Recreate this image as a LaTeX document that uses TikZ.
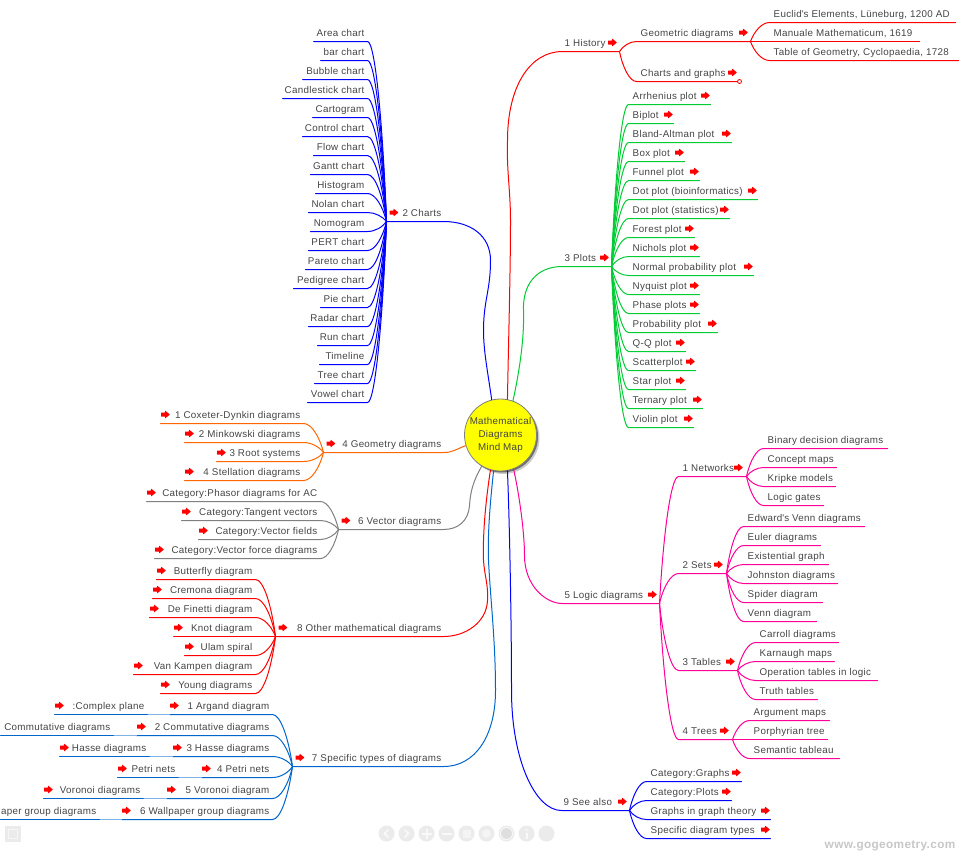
\documentclass[tikz,border=0pt]{standalone}
\usepackage{fontspec}
\setmainfont[LetterSpace=3]{Liberation Sans}
\usetikzlibrary{shadows,calc}
\definecolor{cred}{HTML}{FF0000}
\definecolor{cgreen}{HTML}{00CC33}
\definecolor{cblue}{HTML}{0000FF}
\definecolor{corange}{HTML}{FF6600}
\definecolor{cgray}{HTML}{808080}
\definecolor{csky}{HTML}{0066CC}
\definecolor{cpink}{HTML}{FF0099}
\definecolor{cyell}{HTML}{FFFF00}
\definecolor{textgray}{HTML}{444444}
\definecolor{btngray}{HTML}{EBEBEB}
\tikzset{lbl/.style={inner sep=0pt,text=textgray,font=\fontsize{9.8}{13}\selectfont},
  lnk/.style={line width=1pt,line cap=round},
  btn/.style={circle,fill=btngray,minimum size=16pt,inner sep=0pt},
  redarrow/.pic={\fill[cred,rounded corners=.4pt] (-4.5,-2)--(-.5,-2)--(-.5,-4)--(4.5,0)--(-.5,4)--(-.5,2)--(-4.5,2)--cycle;}}
\newcommand{\rleaves}[4]{\foreach[count=\i] \yy/\xe/\txt/\ico in {#4}{
  \coordinate (#1\i a) at (#3,\yy);
  \coordinate (#1\i b) at (\xe,\yy);
  \coordinate (#1\i p) at ($(#1)!.2!(#1\i a)$);
  \coordinate (#1\i q) at ($(#1)!.55!(#1\i a)$);
  \coordinate (#1\i r) at ($(#1)!.6!(#1\i a)$);
  \node[lbl,anchor=base west] (#1\i) at ([shift={(4,-5)}]#1\i a) {\txt};
  \draw[lnk,#2] (#1) .. controls (#1\i p |- #1\i q) and (#1\i r |- #1\i a) .. (#1\i a) -- (#1\i b);
  \ifnum\ico>0 \pic at ([shift={(-\ico,-9)}]#1\i b) {redarrow};\fi}}
\newcommand{\lleaves}[4]{\foreach[count=\i] \yy/\xl/\txt/\ico in {#4}{
  \coordinate (#1\i a) at (\xl,\yy);
  \coordinate (#1\i b) at (#3,\yy);
  \coordinate (#1\i p) at ($(#1)!.2!(#1\i b)$);
  \coordinate (#1\i q) at ($(#1)!.55!(#1\i b)$);
  \coordinate (#1\i r) at ($(#1)!.6!(#1\i b)$);
  \node[lbl,anchor=base east] (#1\i) at ([shift={(-3,-5)}]#1\i b) {\txt};
  \draw[lnk,#2] (#1) .. controls (#1\i p |- #1\i q) and (#1\i r |- #1\i b) .. (#1\i b) -- (#1\i a);
  \ifnum\ico>0 \pic at ([shift={(\ico,-9)}]#1\i a) {redarrow};\fi}}
\newcommand{\rmain}[7]{\coordinate (#1s) at (#4,#3);
  \coordinate (#1) at (#5,#3);
  \node[lbl,anchor=base west] (#1t) at ([shift={(2,-5)}]#1s) {#6};
  \pic at ([shift={(-7,-9)}]#1) {redarrow};
  \draw[lnk,#2] #7 -- (#1);}
\newcommand{\lmain}[7]{\coordinate (#1s) at (#5,#3);
  \coordinate (#1) at (#4,#3);
  \node[lbl,anchor=base east] (#1t) at ([shift={(-2,-5)}]#1s) {#6};
  \pic at ([shift={(7.5,-9)}]#1) {redarrow};
  \draw[lnk,#2] #7 -- (#1);}
\begin{document}
\begin{tikzpicture}[x=1pt,y=-1pt,xshift=.5pt,yshift=-.5pt]
\useasboundingbox (-.5,-.5) rectangle (967.5,859.5);
\node[circle,draw=cgray,line width=.8pt,fill=cyell,minimum size=72pt,inner sep=0pt,align=center,lbl,
  drop shadow={shadow xshift=3pt,shadow yshift=-3pt,fill=black,opacity=.2},
  drop shadow={shadow xshift=1.5pt,shadow yshift=-1.5pt,fill=black,opacity=.45}] (root) at (500,434.5) {Mathematical\\Diagrams\\Mind Map};
\rmain{hist}{cred}{51}{562}{619}{1 History}{(root.79) .. controls (508,340) and (510,270) .. (510,220) .. controls (510,190) and (506,170) .. (507,140) .. controls (507,85) and (530,51) .. (hists)}
\rmain{plots}{cgreen}{266}{562}{611}{3 Plots}{(root.70) .. controls (518,375) and (524,340) .. (523,310) .. controls (522,285) and (535,266) .. (plotss)}
\rmain{logic}{cpink}{603}{562}{659}{5 Logic diagrams}{(root.291) .. controls (518,490) and (524,530) .. (524,555) .. controls (524,585) and (545,603) .. (logics)}
\rmain{see}{cblue}{810}{561}{629}{9 See also}{(root.281) .. controls (509,520) and (511,620) .. (511,690) .. controls (511,760) and (535,810) .. (sees)}
\lmain{charts}{cblue}{221}{386}{443}{2 Charts}{(root.104) .. controls (487,370) and (483,350) .. (483,330) .. controls (483,300) and (490,290) .. (490,260) .. controls (490,235) and (470,221) .. (chartss)}
\lmain{geom}{corange}{452}{323}{443}{4 Geometry diagrams}{(root.197) .. controls (455,449) and (452,452) .. (geoms)}
\lmain{vec}{cgray}{529}{338}{443}{6 Vector diagrams}{(root.239) .. controls (473,480) and (470,490) .. (469,505) .. controls (468,520) and (458,529) .. (vecs)}
\lmain{other}{cred}{636}{275}{443}{8 Other mathematical diagrams}{(root.254) .. controls (486,495) and (482,530) .. (483,560) .. controls (484,575) and (488,585) .. (487,600) .. controls (486,622) and (465,636) .. (others)}
\lmain{spec}{csky}{766}{292}{443}{7 Specific types of diagrams}{(root.259) .. controls (490,500) and (487,530) .. (488,560) .. controls (490,600) and (495,640) .. (495,690) .. controls (495,735) and (475,766) .. (specs)}
\rleaves{hist}{cred}{636}{41/750/Geometric diagrams/7,81/739/Charts and graphs/7}
\node[circle,draw=cred,fill=white,line width=.8pt,minimum size=4pt,inner sep=0pt] (histend) at (hist2b) {};
\coordinate (geo) at (hist1b);
\rleaves{geo}{cred}{769}{22/955/{Euclid\textquotesingle s Elements, Lüneburg, 1200 AD}/0,41/919/{Manuale Mathematicum, 1619}/0,60/958/{Table of Geometry, Cyclopaedia, 1728}/0}
\rleaves{plots}{cgreen}{628}{104/710/Arrhenius plot/5,123/673/Biplot/5,142/731/Bland-Altman plot/5,161/684/Box plot/5,180/699/Funnel plot/5,199/757/Dot plot (bioinformatics)/5,218/729/Dot plot (statistics)/5,237/694/Forest plot/5,256/699/Nichols plot/5,275/753/Normal probability plot/5,294/699/Nyquist plot/5,313/699/Phase plots/5,332/717/Probability plot/5,351/685/Q-Q plot/5,370/695/Scatterplot/5,389/685/Star plot/5,408/702/Ternary plot/5,427/693/Violin plot/5}
\rleaves{logic}{cpink}{678}{476/746/1 Networks/8,573/726/2 Sets/8,670/737/3 Tables/7,739/732/4 Trees/8}
\coordinate (net) at (logic1b);
\coordinate (sets) at (logic2b);
\coordinate (tabs) at (logic3b);
\coordinate (trees) at (logic4b);
\rleaves{net}{cpink}{763}{448/887/Binary decision diagrams/0,467/836/Concept maps/0,486/835/Kripke models/0,505/823/Logic gates/0}
\rleaves{sets}{cpink}{743}{526/864/Edward\textquotesingle s Venn diagrams/0,545/820/Euler diagrams/0,564/828/Existential graph/0,583/837/Johnston diagrams/0,602/822/Spider diagram/0,621/816/Venn diagram/0}
\rleaves{tabs}{cpink}{755}{642/838/Carroll diagrams/0,661/834/Karnaugh maps/0,680/877/Operation tables in logic/0,699/817/Truth tables/0}
\rleaves{trees}{cpink}{749}{720/829/Argument maps/0,739/827/Porphyrian tree/0,758/839/Semantic tableau/0}
\rleaves{see}{cblue}{646}{781/741/Category:Graphs/5,800/731/Category:Plots/5,819/770/Graphs in graph theory/5,838/770/Specific diagram types/5}
\lleaves{charts}{cblue}{367}{41/313/Area chart/0,60/320/bar chart/0,79/302/Bubble chart/0,98/282/Candlestick chart/0,117/312/Cartogram/0,136/302/Control chart/0,155/313/Flow chart/0,174/310/Gantt chart/0,193/315/Histogram/0,212/308/Nolan chart/0,231/310/Nomogram/0,250/308/PERT chart/0,269/305/Pareto chart/0,288/293/Pedigree chart/0,307/320/Pie chart/0,326/308/Radar chart/0,345/317/Run chart/0,364/319/Timeline/0,383/314/Tree chart/0,402/307/Vowel chart/0}
\lleaves{geom}{corange}{303}{423/160/1 Coxeter-Dynkin diagrams/5,442/184/2 Minkowski diagrams/5,461/216/3 Root systems/5,480/184/4 Stellation diagrams/5}
\lleaves{vec}{cgray}{320}{501/146/Category:Phasor diagrams for AC/5,520/181/Category:Tangent vectors/5,539/198/Category:Vector fields/5,558/154/Category:Vector force diagrams/5}
\lleaves{other}{cred}{255}{579/156/Butterfly diagram/5,598/152/Cremona diagram/5,617/149/De Finetti diagram/5,636/173/Knot diagram/5,655/184/Ulam spiral/5,674/133/Van Kampen diagram/5,693/160/Young diagrams/5}
\lleaves{spec}{csky}{272}{714/169/1 Argand diagram/5,735/136/2 Commutative diagrams/5,756/172/3 Hasse diagrams/5,777/201/4 Petri nets/5,798/166/5 Voronoi diagram/5,819/121/6 Wallpaper group diagrams/5}
\foreach[count=\i] \yy/\xl/\xr/\txt/\ico in {714/54/147/:Complex plane/5,735/0/113/Commutative diagrams/0,756/59/149/Hasse diagrams/5,777/117/178/Petri nets/5,798/43/143/Voronoi diagrams/5,819/0/99/aper group diagrams/0}{
  \coordinate (out\i a) at (\xl,\yy);
  \coordinate (out\i b) at (\xr,\yy);
  \node[lbl,anchor=base east] (out\i) at ([shift={(-3,-5)}]out\i b) {\txt};
  \draw[lnk,csky] (out\i a) -- (out\i b);
  \draw[line width=1.6pt,csky!50,yshift=.4pt] (out\i b) -- (spec\i a);
  \ifnum\ico>0 \pic at ([shift={(\ico,-9)}]out\i a) {redarrow};\fi
}
\node[draw=none,fill=btngray,minimum size=16pt,inner sep=0pt] (zoombox) at (12,833) {};
\node[draw=white,opacity=.6,minimum size=9pt,inner sep=0pt] (zoomicon) at (zoombox) {};
\foreach[count=\i] \xx in {386,406,426,446,466,486,506,526,546}{
  \node[btn] (btn\i) at (\xx,833) {};
}
\draw[white,opacity=.7,line width=1.6pt] ([shift={(2,-4)}]btn1.center) -- ([shift={(-2,0)}]btn1.center) -- ([shift={(2,4)}]btn1.center);
\draw[white,opacity=.7,line width=1.6pt] ([shift={(-2,-4)}]btn2.center) -- ([shift={(2,0)}]btn2.center) -- ([shift={(-2,4)}]btn2.center);
\draw[white,opacity=.7,line width=2pt] ([xshift=-5pt]btn3.center) -- ([xshift=5pt]btn3.center) ([yshift=-5pt]btn3.center) -- ([yshift=5pt]btn3.center);
\draw[white,opacity=.7,line width=2pt] ([xshift=-5pt]btn4.center) -- ([xshift=5pt]btn4.center);
\node[fill=white,opacity=.45,minimum size=8pt,inner sep=0pt] at (btn5) {};
\node[circle,fill=white,opacity=.45,minimum size=9pt,inner sep=0pt] at (btn6) {};
\node[circle,draw=white,line width=1pt,opacity=.7,fill=black!15,minimum size=12pt,inner sep=0pt] at (btn7) {};
\fill[white,opacity=.7] ([shift={(-1,-1)}]btn8.center) rectangle ([shift={(1,5)}]btn8.center);
\fill[white,opacity=.7] ([yshift=3.5pt]btn8.center) circle (1.2pt);
\node[anchor=base east,inner sep=0pt,text=black!22,font=\bfseries\fontsize{11.8}{13}\selectfont] (site) at (955,848) {www.gogeometry.com};
\end{tikzpicture}
\end{document}
